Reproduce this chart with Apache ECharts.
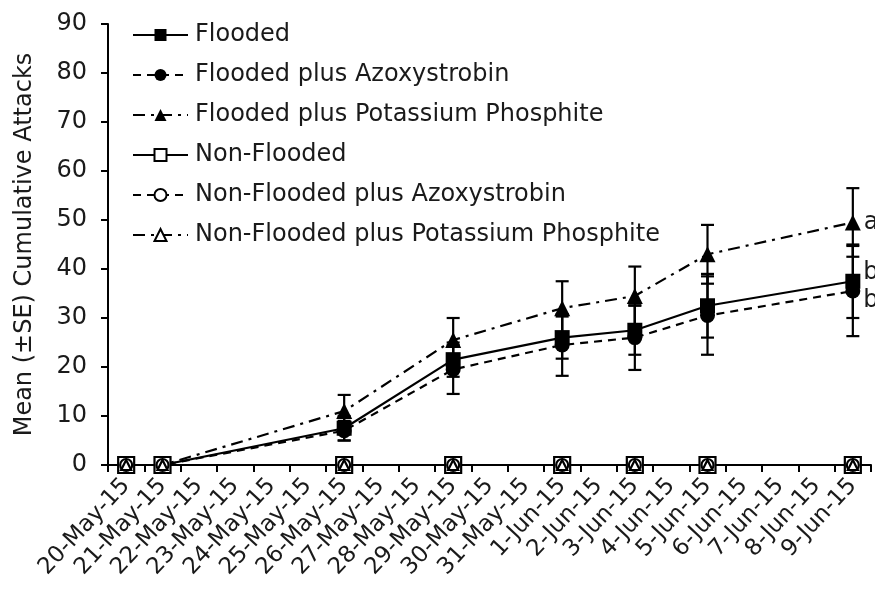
<!DOCTYPE html>
<html>
<head>
<meta charset="utf-8">
<script src="https://cdn.jsdelivr.net/npm/echarts@6/dist/echarts.min.js"></script>
<style>
  html, body { margin: 0; padding: 0; background: #fff; }
  #chart { width: 875px; height: 592px; }
</style>
</head>
<body>
<div id="chart"></div>
<script>
// x axis categories (every day shown)
var dates = ['20-May-15', '21-May-15', '22-May-15', '23-May-15', '24-May-15', '25-May-15',
  '26-May-15', '27-May-15', '28-May-15', '29-May-15', '30-May-15', '31-May-15',
  '1-Jun-15', '2-Jun-15', '3-Jun-15', '4-Jun-15', '5-Jun-15', '6-Jun-15',
  '7-Jun-15', '8-Jun-15', '9-Jun-15']
// sampling dates
var sampleDates = ['20-May-15', '21-May-15', '26-May-15', '29-May-15', '1-Jun-15', '3-Jun-15', '5-Jun-15', '9-Jun-15']

var flooded = [0, 0, 7.5, 21.5, 26, 27.5, 32.5, 37.5]
var floodedSE = [0, 0, 2.5, 3.5, 4.3, 5, 6.5, 7.5]
var floodedAzo = [0, 0, 7, 19.5, 24.5, 26, 30.5, 35.5]
var floodedAzoSE = [0, 0, 2, 5, 6.3, 6.6, 8, 9.2]
var floodedPhos = [0, 0, 11, 25.5, 32, 34.5, 43, 49.5]
var floodedPhosSE = [0, 0, 3.3, 4.5, 5.5, 6, 6, 7]
var nonFlooded = [0, 0, 0, 0, 0, 0, 0, 0]
var nonFloodedAzo = [0, 0, 0, 0, 0, 0, 0, 0]
var nonFloodedPhos = [0, 0, 0, 0, 0, 0, 0, 0]

// letters beside the last point
var sigFlooded = 'b'
var sigAzo = 'b'
var sigPhos = 'a'

var chart = echarts.init(document.getElementById('chart'))

function pts(values, letter, offY) {
  var out = []
  for (var i = 0; i < values.length; i++) {
    var item = { value: [sampleDates[i], values[i]] }
    if (letter && i === values.length - 1) {
      item.label = {
        show: true, formatter: letter, position: 'right', distance: 3,
        offset: [0, offY], fontSize: 24, color: '#1a1a1a'
      }
    }
    out.push(item)
  }
  return out
}

function errData(values, se) {
  var out = []
  for (var i = 0; i < values.length; i++) {
    if (se[i] > 0) out.push([dates.indexOf(sampleDates[i]), values[i] - se[i], values[i] + se[i]])
  }
  return out
}

function errorBars(name, values, se) {
  return {
    name: name + ' SE',
    type: 'custom',
    data: errData(values, se),
    z: 1,
    silent: true,
    renderItem: function (params, api) {
      var lo = api.coord([api.value(0), api.value(1)])
      var hi = api.coord([api.value(0), api.value(2)])
      var w = 6.5
      var st = { stroke: '#000', lineWidth: 2.2 }
      return {
        type: 'group',
        children: [
          { type: 'line', shape: { x1: lo[0], y1: lo[1], x2: hi[0], y2: hi[1] }, style: st },
          { type: 'line', shape: { x1: lo[0] - w, y1: lo[1], x2: lo[0] + w, y2: lo[1] }, style: st },
          { type: 'line', shape: { x1: hi[0] - w, y1: hi[1], x2: hi[0] + w, y2: hi[1] }, style: st }
        ]
      }
    }
  }
}

function lineSeries(name, values, symbol, size, filled, dash, letter, offY) {
  return {
    name: name,
    type: 'line',
    data: pts(values, letter, offY),
    symbol: symbol,
    symbolSize: size,
    showAllSymbol: true,
    z: 3,
    lineStyle: { color: '#000', width: 2.2, type: dash },
    itemStyle: { color: filled ? '#000' : '#fff', borderColor: '#000', borderWidth: filled ? 0 : 2.2, opacity: 1 },
    emphasis: { disabled: true }
  }
}

var option = {
  animation: false,
  textStyle: { fontFamily: 'DejaVu Sans, sans-serif' },
  grid: { left: 108, right: 4, top: 24, bottom: 127, outerBoundsMode: 'none' },
  legend: {
    orient: 'vertical',
    left: 127,
    top: 18,
    itemWidth: 55,
    itemHeight: 15,
    itemGap: 16,
    textStyle: { fontSize: 24, color: '#1a1a1a', padding: [0, 0, 0, 2] },
    data: ['Flooded', 'Flooded plus Azoxystrobin', 'Flooded plus Potassium Phosphite',
      'Non-Flooded', 'Non-Flooded plus Azoxystrobin', 'Non-Flooded plus Potassium Phosphite']
  },
  xAxis: {
    type: 'category',
    data: dates,
    boundaryGap: true,
    axisLine: { lineStyle: { color: '#000', width: 2 } },
    axisTick: { show: true, length: 7, lineStyle: { color: '#000', width: 2 } },
    axisLabel: { interval: 0, rotate: 47, fontSize: 23, color: '#1a1a1a', margin: 17 },
    splitLine: { show: false }
  },
  yAxis: {
    type: 'value',
    min: 0,
    max: 90,
    interval: 10,
    name: 'Mean (±SE) Cumulative Attacks',
    nameLocation: 'middle',
    nameGap: 71,
    nameTextStyle: { fontSize: 24, color: '#1a1a1a' },
    axisLine: { show: true, lineStyle: { color: '#000', width: 2 } },
    axisTick: { show: true, length: 7, lineStyle: { color: '#000', width: 2 } },
    axisLabel: { fontSize: 24, color: '#1a1a1a', margin: 21 },
    splitLine: { show: false }
  },
  series: [
    errorBars('Flooded', flooded, floodedSE),
    errorBars('Flooded plus Azoxystrobin', floodedAzo, floodedAzoSE),
    errorBars('Flooded plus Potassium Phosphite', floodedPhos, floodedPhosSE),
    lineSeries('Flooded', flooded, 'rect', 15, true, 'solid', sigFlooded, -8),
    lineSeries('Flooded plus Azoxystrobin', floodedAzo, 'circle', 15, true, [8, 6], sigAzo, 10),
    lineSeries('Flooded plus Potassium Phosphite', floodedPhos, 'triangle', 16, true, [12, 6, 3, 6], sigPhos, 0),
    lineSeries('Non-Flooded', nonFlooded, 'rect', 16, false, 'solid'),
    lineSeries('Non-Flooded plus Azoxystrobin', nonFloodedAzo, 'circle', 12, false, [8, 6]),
    lineSeries('Non-Flooded plus Potassium Phosphite', nonFloodedPhos, 'triangle', 10, false, [12, 6, 3, 6])
  ]
}

chart.setOption(option)
</script>
</body>
</html>
